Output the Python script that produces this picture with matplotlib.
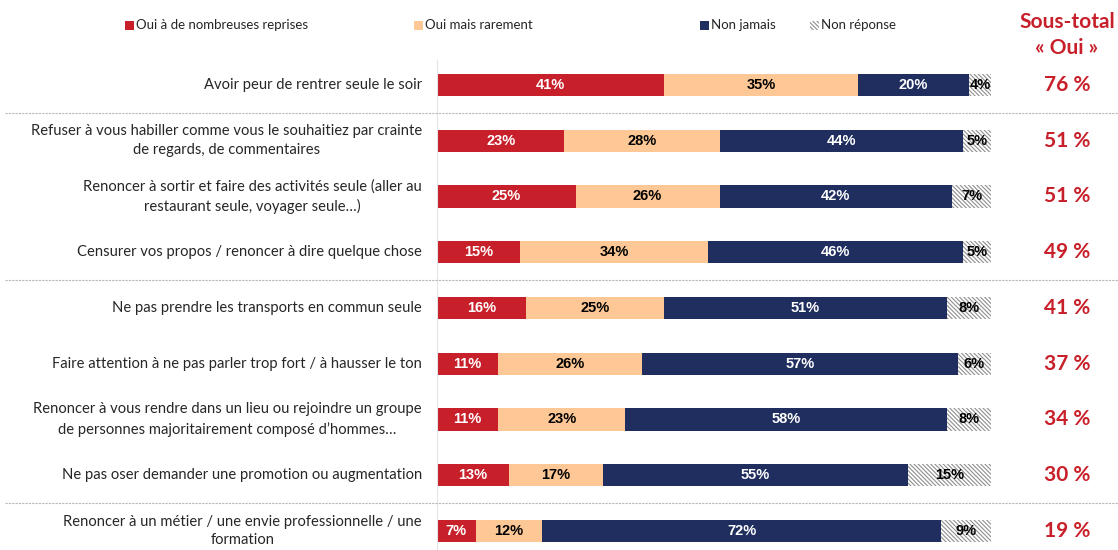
import matplotlib
matplotlib.use("Agg")
import matplotlib.pyplot as plt
import matplotlib.transforms as mtransforms
from matplotlib.patches import Rectangle

plt.rcParams['font.family'] = ['Lato', 'DejaVu Sans']
plt.rcParams['hatch.linewidth'] = 0.8

categories = [
    "Avoir peur de rentrer seule le soir",
    "Refuser à vous habiller comme vous le souhaitiez par crainte\nde regards, de commentaires",
    "Renoncer à sortir et faire des activités seule (aller au\nrestaurant seule, voyager seule…)",
    "Censurer vos propos / renoncer à dire quelque chose",
    "Ne pas prendre les transports en commun seule",
    "Faire attention à ne pas parler trop fort / à hausser le ton",
    "Renoncer à vous rendre dans un lieu ou rejoindre un groupe\nde personnes majoritairement composé d’hommes…",
    "Ne pas oser demander une promotion ou augmentation",
    "Renoncer à un métier / une envie professionnelle / une\nformation",
]
oui_nombreuses = [41, 23, 25, 15, 16, 11, 11, 13, 7]
oui_rarement = [35, 28, 26, 34, 25, 26, 23, 17, 12]
non_jamais = [20, 44, 42, 46, 51, 57, 58, 55, 72]
non_reponse = [4, 5, 7, 5, 8, 6, 8, 15, 9]
sous_total = [76, 51, 51, 49, 41, 37, 34, 30, 19]
series_names = ["Oui à de nombreuses reprises", "Oui mais rarement", "Non jamais", "Non réponse"]
separators_after = [0, 3, 7]

colors = ['#C8202A', '#FDC896', '#1F2D5F', 'white']
text_colors = ['white', 'black', 'white', 'black']
hatches = [None, None, None, '\\\\\\\\\\\\\\\\']
hatch_edge = '#8f8f8f'

W, H = 1118, 550
fig = plt.figure(figsize=(W / 100, H / 100), dpi=100)

x0, x1 = 437, 991
ytop, ybot = 60, 550
ax = fig.add_axes([x0 / W, (H - ybot) / H, (x1 - x0) / W, (ybot - ytop) / H])
step = 55.75
first = 85
ax.set_ylim((ybot - first) / step, (ytop - first) / step)
ax.set_xlim(0, 100)
for s in ['top', 'right', 'bottom']:
    ax.spines[s].set_visible(False)
ax.spines['left'].set_color('#e3e3e3')
ax.set_xticks([])
ax.set_yticks([])

data = [oui_nombreuses, oui_rarement, non_jamais, non_reponse]
ypos = list(range(len(categories)))
bh = 0.40
left = [0] * len(categories)
for k, vals in enumerate(data):
    ax.barh(ypos, vals, left=left, height=bh, color=colors[k],
            edgecolor='none' if hatches[k] is None else hatch_edge,
            linewidth=0, hatch=hatches[k], label=series_names[k])
    for i, v in enumerate(vals):
        ax.text(left[i] + v / 2, i, f"{v}%", ha='center', va='center',
                color=text_colors[k], fontsize=10.5, fontweight='bold',
                family=['Liberation Sans', 'DejaVu Sans'])
    left = [l + v for l, v in zip(left, vals)]

# category labels and sub-totals
trans_lab = mtransforms.blended_transform_factory(fig.transFigure, ax.transData)
for i, c in enumerate(categories):
    fig.text(422 / W, i, c, transform=trans_lab, ha='right', va='center',
             multialignment='center', fontsize=10.6, color='#262626',
             linespacing=1.45)
    fig.text(1067 / W, i, f"{sous_total[i]} %", transform=trans_lab,
             ha='center', va='center', fontsize=15, fontweight='bold',
             color='#C8202A')

# separators
for s in separators_after:
    yy = s + 0.5
    fig.add_artist(plt.Line2D([5 / W, 1.0], [yy, yy], transform=trans_lab,
                              color='#b8b8b8', linestyle=(0, (2, 1)),
                              linewidth=0.8))

# header
fig.text(1067 / W, 1 - 35 / H, "Sous-total\n« Oui »", ha='center', va='center',
         fontsize=15, fontweight='bold', color='#C8202A', linespacing=1.35)

# legend
leg_x = [125, 414, 700, 810]
for k, name in enumerate(series_names):
    fig.add_artist(Rectangle((leg_x[k] / W, 1 - 30 / H), 9 / W, 9 / H,
                             transform=fig.transFigure, facecolor=colors[k],
                             edgecolor='none' if hatches[k] is None else hatch_edge,
                             hatch=hatches[k], linewidth=0))
    fig.text((leg_x[k] + 11) / W, 1 - 25 / H, name, ha='left', va='center',
             fontsize=9.5, color='#262626')

fig.savefig("out.png", dpi=100)
